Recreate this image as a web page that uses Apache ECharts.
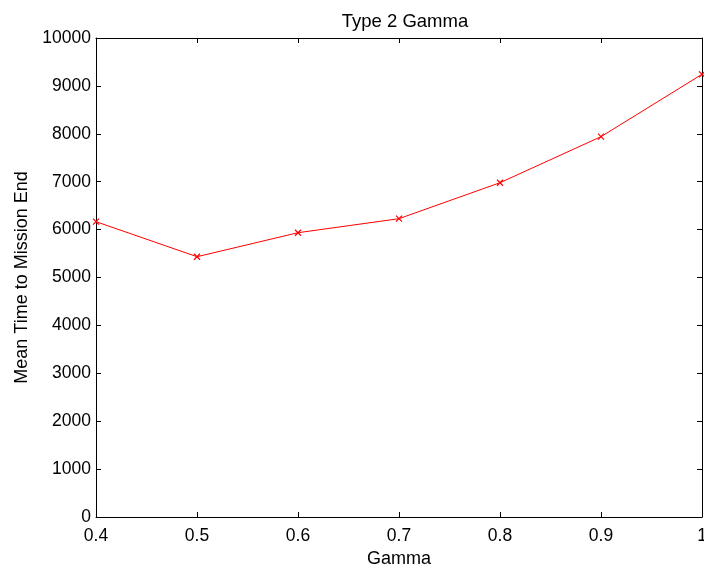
<!DOCTYPE html>
<html>
<head>
<meta charset="utf-8">
<script src="https://cdn.jsdelivr.net/npm/echarts@6/dist/echarts.min.js"></script>
<style>
  html, body { margin: 0; padding: 0; background: #fff; }
  #chart { width: 704px; height: 566px; }
</style>
</head>
<body>
<div id="chart"></div>
<script>
// Mean time to mission end as a function of gamma (type 2)
const gammaValues = [0.4, 0.5, 0.6, 0.7, 0.8, 0.9, 1.0];
const meanTimes = [6165, 5434, 5935, 6228, 6979, 7940, 9242];

const FONT = 'Liberation Sans, Arial, sans-serif';
const crossPath = 'path://M0,0 L10,10 M10,0 L0,10';

const chart = echarts.init(document.getElementById('chart'), null, { renderer: 'canvas' });

const fmtX = v => String(Math.round(v * 10) / 10);
const fmtY = v => String(v);

const tickCommon = {
  axisLine: { show: true, onZero: false, lineStyle: { color: '#000', width: 1 } },
  axisTick: { show: true, inside: true, length: 5, lineStyle: { color: '#000', width: 1 } },
  splitLine: { show: false }
};

chart.setOption({
  animation: false,
  backgroundColor: '#fff',
  title: {
    text: 'Type 2 Gamma',
    left: 400, top: 7, textAlign: 'center',
    textStyle: { fontFamily: FONT, fontSize: 18.5, fontWeight: 'normal', color: '#000' }
  },
  grid: { left: 96, right: 2, top: 38, bottom: 49, containLabel: false, outerBoundsMode: 'none' },
  xAxis: [
    Object.assign({
      type: 'value', position: 'bottom',
      min: 0.4, max: 1, interval: 0.1,
      name: 'Gamma', nameLocation: 'middle', nameGap: 31,
      nameTextStyle: { fontFamily: FONT, fontSize: 18, color: '#000' },
      axisLabel: { show: true, margin: 10, formatter: fmtX, fontFamily: FONT, fontSize: 17.5, color: '#000', showMaxLabel: true, showMinLabel: true, hideOverlap: false }
    }, tickCommon),
    Object.assign({
      type: 'value', position: 'top',
      min: 0.4, max: 1, interval: 0.1,
      axisLabel: { show: false }
    }, tickCommon)
  ],
  yAxis: [
    Object.assign({
      type: 'value', position: 'left',
      min: 0, max: 10000, interval: 1000,
      name: 'Mean Time to Mission End', nameLocation: 'middle', nameGap: 65,
      nameTextStyle: { fontFamily: FONT, fontSize: 18, color: '#000' },
      axisLabel: { show: true, margin: 5, formatter: fmtY, fontFamily: FONT, fontSize: 17.5, color: '#000', hideOverlap: false }
    }, tickCommon),
    Object.assign({
      type: 'value', position: 'right',
      min: 0, max: 10000, interval: 1000,
      axisLabel: { show: false }
    }, tickCommon)
  ],
  series: [{
    type: 'line',
    xAxisIndex: 0, yAxisIndex: 0,
    data: gammaValues.map((g, i) => [g, meanTimes[i]]),
    lineStyle: { color: '#ff0000', width: 1 },
    itemStyle: { color: 'none', borderColor: '#ff0000', borderWidth: 1.2 },
    symbol: crossPath,
    symbolSize: 6,
    showSymbol: true,
    clip: false
  }]
});
</script>
</body>
</html>
